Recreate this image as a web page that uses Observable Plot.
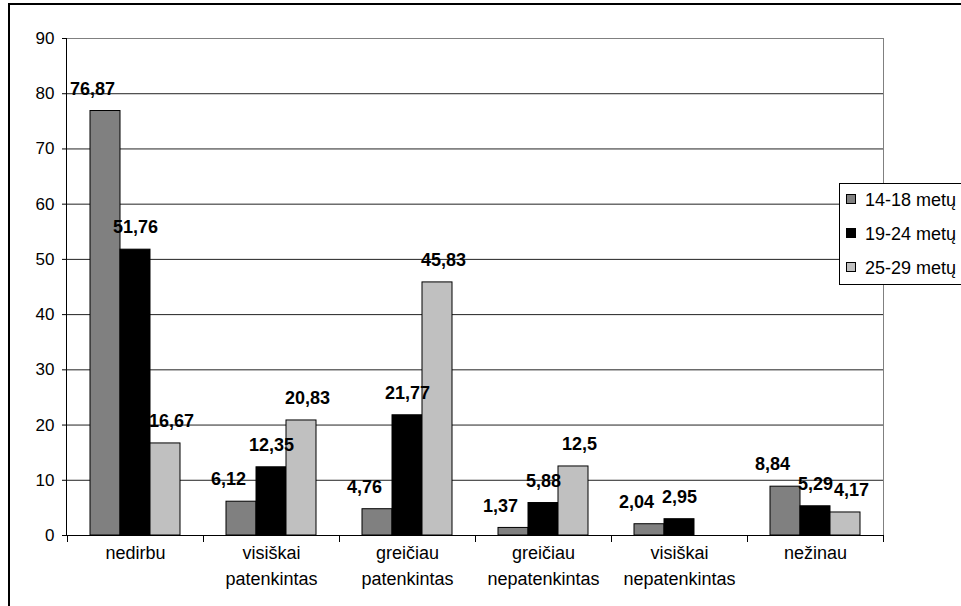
<!DOCTYPE html>
<html><head><meta charset="utf-8">
<script src="https://cdn.jsdelivr.net/npm/d3@7"></script>
<script src="https://cdn.jsdelivr.net/npm/@observablehq/plot@0.6"></script>
<style>html,body{margin:0;padding:0;overflow:hidden;background:#fff}</style>
</head><body><div id="chart"></div>
<script>
// Categories (tick labels, two-line where wrapped)
const categories = ["nedirbu", "visiškai\npatenkintas", "greičiau\npatenkintas", "greičiau\nnepatenkintas", "visiškai\nnepatenkintas", "nežinau"];
const seriesNames = ["14-18 metų", "19-24 metų", "25-29 metų"];
const values1418 = [76.87, 6.12, 4.76, 1.37, 2.04, 8.84];
const values1924 = [51.76, 12.35, 21.77, 5.88, 2.95, 5.29];
const values2529 = [16.67, 20.83, 45.83, 12.5, null, 4.17];
const yTicks = [0, 10, 20, 30, 40, 50, 60, 70, 80, 90];
const seriesColors = ["#808080", "#000000", "#c0c0c0"];

const rows = [];
[values1418, values1924, values2529].forEach((vals, si) =>
  vals.forEach((v, ci) => { if (v != null) rows.push({category: categories[ci], series: seriesNames[si], value: v}); })
);
const fmt = v => String(v).replace(".", ",");
const FONT = "'Liberation Sans', Arial, sans-serif";
const labelShift = [-13, 0, 6]; // per-series horizontal label offset (style, like Excel's label placement)

const W = 961, H = 606;
const chart = Plot.plot({
  width: W, height: H,
  marginLeft: 66, marginRight: 78, marginTop: 38, marginBottom: 71,
  style: {fontFamily: FONT, fontSize: "17px", background: "#fff", overflow: "hidden", color: "#000"},
  fx: {domain: categories, padding: 0, label: null},
  x: {domain: seriesNames, paddingInner: 0, paddingOuter: 0.7, axis: null},
  y: {domain: [0, 90], label: null},
  color: {domain: seriesNames, range: seriesColors},
  marks: [
    Plot.ruleY(yTicks.filter(t => t > 0 && t < 90), {stroke: "#222", strokeWidth: 1}),
    Plot.barY(rows, {fx: "category", x: "series", y: "value", fill: "series", stroke: "#000", strokeWidth: 1}),
    ...seriesNames.map((s, i) =>
      Plot.text(rows.filter(d => d.series === s), {fx: "category", x: "series", y: "value", text: d => fmt(d.value),
        dx: labelShift[i], dy: -22, fontWeight: "bold", fontSize: 18, fill: "#000"})),
    Plot.axisY({ticks: yTicks, tickSize: 5, tickPadding: 8, fontSize: 17, label: null}),
    Plot.axisFx({anchor: "bottom", tickSize: 0, tickPadding: 5, fontSize: 18, lineHeight: 1.45, label: null})
  ]
});
document.getElementById("chart").appendChild(chart);

const svg = d3.select(chart);
const yS = chart.scale("y"), fxS = chart.scale("fx");
const y0 = Math.round(yS.apply(0)) + 0.5, yTop = Math.round(yS.apply(90)) + 0.5;
const xL = 66.5, xR = W - 78 + 0.5;
const ov = svg.append("g").attr("shape-rendering", "crispEdges").attr("fill", "none");
// outer chart frame
ov.append("rect").attr("x", 9).attr("y", 4).attr("width", 2000).attr("height", 2000).attr("stroke", "#000").attr("stroke-width", 2);
// plot-area border (top, right)
ov.append("path").attr("d", `M${xL},${yTop}H${xR}V${y0}`).attr("stroke", "#808080").attr("stroke-width", 1);
// axes
ov.append("path").attr("d", `M${xL},${yTop}V${y0}H${xR}`).attr("stroke", "#000");
// category boundary ticks
const bounds = categories.map(c => fxS.apply(c)).concat([fxS.apply(categories[categories.length - 1]) + fxS.bandwidth]);
bounds.forEach(b => ov.append("path").attr("d", `M${Math.round(b) + 0.5},${y0}V${y0 + 6}`).attr("stroke", "#000"));
// legend
const cS = chart.scale("color");
const lg = svg.append("g").attr("text-anchor", "start");
lg.append("rect").attr("x", 839.5).attr("y", 183.5).attr("width", 200).attr("height", 101).attr("fill", "#fff").attr("stroke", "#000").attr("shape-rendering", "crispEdges");
seriesNames.forEach((s, i) => {
  const cy = 200 + i * 34;
  lg.append("rect").attr("x", 846.5).attr("y", cy - 5.5).attr("width", 9).attr("height", 9)
    .attr("fill", cS.apply(s)).attr("stroke", "#000").attr("shape-rendering", "crispEdges");
  lg.append("text").attr("x", 865).attr("y", cy).attr("dy", "0.35em").attr("text-anchor", "start")
    .attr("font-family", FONT).attr("font-size", 18).attr("fill", "#000").text(s);
});
</script>
</body></html>
